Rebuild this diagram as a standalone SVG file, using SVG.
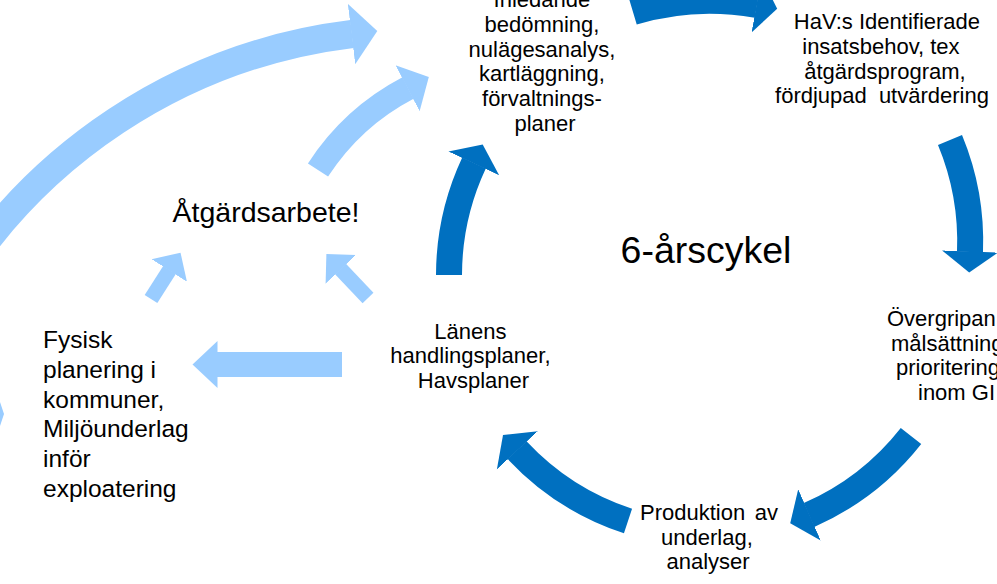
<svg xmlns="http://www.w3.org/2000/svg" width="997" height="584" viewBox="0 0 997 584">
<style>
text { font-family: "Liberation Sans", Arial, sans-serif; fill: #000000; }
.t22 { font-size: 22px; }
.c { text-anchor: middle; }
.e { text-anchor: end; }
.dk { fill: none; stroke: #0070C0; stroke-width: 26; marker-end: url(#hd); }
.lt { fill: none; stroke: #99CCFF; }
</style>
<defs>
<marker id="hd" markerUnits="userSpaceOnUse" viewBox="0 -30 24 60" markerWidth="24" markerHeight="60" refX="0.5" refY="0" orient="auto"><path d="M0,-28 L21,0 L0,28 Z" fill="#0070C0"/></marker>
<marker id="hl1" markerUnits="userSpaceOnUse" viewBox="0 -32 28 64" markerWidth="28" markerHeight="64" refX="0.5" refY="0" orient="auto"><path d="M0,-30.5 L26,0 L0,30.5 Z" fill="#99CCFF"/></marker>
<marker id="hl2" markerUnits="userSpaceOnUse" viewBox="0 -28 26 56" markerWidth="26" markerHeight="56" refX="0.5" refY="0" orient="auto"><path d="M0,-26 L24,0 L0,26 Z" fill="#99CCFF"/></marker>
<marker id="hl3" markerUnits="userSpaceOnUse" viewBox="0 -22 22 44" markerWidth="22" markerHeight="44" refX="0.5" refY="0" orient="auto"><path d="M0,-21 L21,0 L0,21 Z" fill="#99CCFF"/></marker>
<marker id="hl4" markerUnits="userSpaceOnUse" viewBox="0 -25 26 50" markerWidth="26" markerHeight="50" refX="0.5" refY="0" orient="auto"><path d="M0,-23.5 L25,0 L0,23.5 Z" fill="#99CCFF"/></marker>
</defs>

<g id="connectors">
<path class="dk" d="M633,12 A267,267 0 0 1 757,5"/>
<path class="dk" d="M950,140 A265,265 0 0 1 970,252"/>
<path class="dk" d="M911,436 A265,265 0 0 1 809,515"/>
<path class="dk" d="M628,521 A265,265 0 0 1 517,450"/>
<path class="dk" d="M449,275 A265,265 0 0 1 474,163"/>
<path class="lt" stroke-width="28" marker-end="url(#hl1)" d="M-56,304 A548,548 0 0 1 352,34"/>
<path class="lt" stroke-width="24" marker-end="url(#hl2)" d="M318,170 A240,240 0 0 1 408,88"/>
<path class="lt" stroke-width="15" marker-end="url(#hl3)" d="M151,299 L169.5,270"/>
<path class="lt" stroke-width="15" marker-end="url(#hl3)" d="M368,298 L340.5,269"/>
<path class="lt" stroke-width="25" marker-end="url(#hl4)" d="M342,364.5 L217,364.5"/>
<polygon points="0,402 4,414 0,426" fill="#99CCFF"/>
</g>

<g id="node-inledande">
<text class="t22 c">
<tspan x="545" y="7">Inledande</tspan>
<tspan x="545" y="31.7">bedömning,</tspan>
<tspan x="545" y="56.5">nulägesanalys,</tspan>
<tspan x="545" y="81.2">kartläggning,</tspan>
<tspan x="545" y="106">förvaltnings-</tspan>
<tspan x="545" y="130.7">planer</tspan>
</text>
</g>

<g id="node-hav">
<text class="t22 c">
<tspan x="890" y="29.3">HaV:s Identifierade</tspan>
<tspan x="884" y="54">insatsbehov, tex</tspan>
<tspan x="888" y="78.7">åtgärdsprogram,</tspan>
<tspan x="882" y="103.3" word-spacing="6">fördjupad utvärdering</tspan>
</text>
</g>

<g id="node-overgripande">
<text class="t22">
<tspan x="887" y="326">Övergripan</tspan>
<tspan x="891" y="350.5">målsättning</tspan>
<tspan x="896" y="375">prioritering</tspan>
<tspan x="918" y="399.5">inom GI</tspan>
</text>
</g>

<g id="node-produktion">
<text class="t22" x="640" y="520">Produktion</text>
<text class="t22 e" x="778" y="520">av</text>
<text class="t22 c">
<tspan x="710" y="544.5">underlag,</tspan>
<tspan x="708" y="569">analyser</tspan>
</text>
</g>

<g id="node-lanens">
<text class="t22 c">
<tspan x="473.5" y="338.5">Länens</tspan>
<tspan x="473.5" y="363">handlingsplaner,</tspan>
<tspan x="473.5" y="387.5">Havsplaner</tspan>
</text>
</g>

<g id="node-fysisk">
<text font-size="24.5">
<tspan x="43" y="348.3">Fysisk</tspan>
<tspan x="43" y="378">planering i</tspan>
<tspan x="43" y="407.7">kommuner,</tspan>
<tspan x="43" y="437.4">Miljöunderlag</tspan>
<tspan x="43" y="467.1">inför</tspan>
<tspan x="43" y="496.8">exploatering</tspan>
</text>
</g>

<g id="node-atgard">
<text font-size="28.5" class="c" x="266" y="221.7">Åtgärdsarbete!</text>
</g>

<g id="node-cykel">
<text font-size="37.5" class="c" x="706" y="263">6-årscykel</text>
</g>
</svg>
